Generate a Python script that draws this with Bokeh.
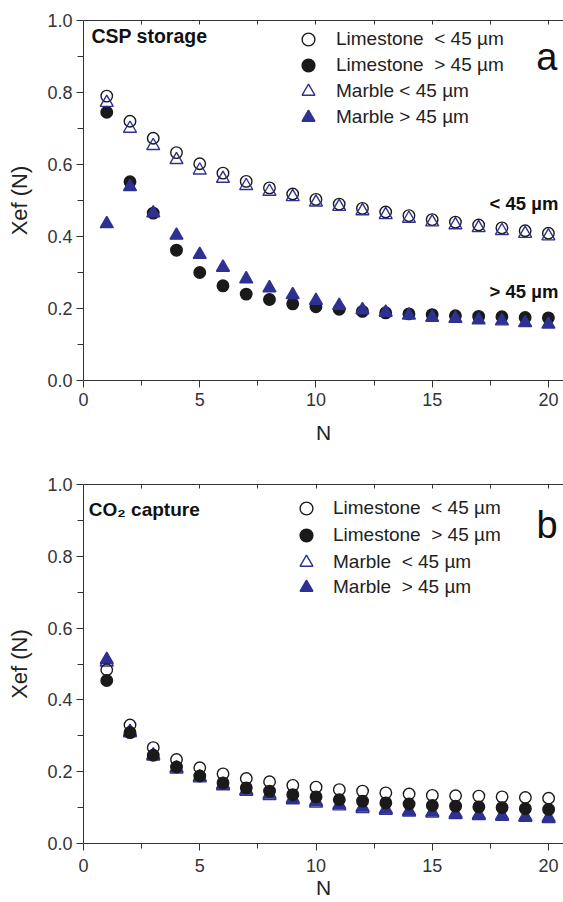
from bokeh.plotting import figure
from bokeh.models import (Range1d, Legend, LegendItem, LinearAxis, FixedTicker,
                          Label, PrintfTickFormatter)
from bokeh.layouts import column
from bokeh.embed import file_html
from bokeh.resources import INLINE

# ---------------- data ----------------
cycles = list(range(1, 21))

# panel a: CSP storage
csp_lime_fine = [0.790, 0.720, 0.673, 0.633, 0.602, 0.576, 0.553, 0.535, 0.518, 0.503,
                 0.490, 0.478, 0.468, 0.458, 0.447, 0.440, 0.432, 0.424, 0.416, 0.409]
csp_lime_coarse = [0.745, 0.552, 0.465, 0.362, 0.300, 0.263, 0.240, 0.225, 0.213, 0.205,
                   0.198, 0.192, 0.188, 0.185, 0.183, 0.180, 0.178, 0.177, 0.175, 0.174]
csp_marble_fine = [0.772, 0.700, 0.652, 0.613, 0.584, 0.561, 0.541, 0.525, 0.510, 0.495,
                   0.483, 0.471, 0.460, 0.450, 0.440, 0.432, 0.424, 0.416, 0.408, 0.401]
csp_marble_coarse = [0.435, 0.538, 0.465, 0.403, 0.350, 0.314, 0.282, 0.257, 0.238, 0.222,
                     0.208, 0.196, 0.189, 0.181, 0.175, 0.172, 0.168, 0.165, 0.160, 0.156]

# panel b: CO2 capture
co2_lime_fine = [0.484, 0.330, 0.267, 0.234, 0.211, 0.194, 0.181, 0.172, 0.162, 0.157,
                 0.150, 0.146, 0.141, 0.138, 0.134, 0.133, 0.132, 0.130, 0.128, 0.126]
co2_lime_coarse = [0.454, 0.309, 0.246, 0.213, 0.188, 0.169, 0.155, 0.146, 0.136, 0.130,
                   0.122, 0.118, 0.113, 0.110, 0.106, 0.104, 0.102, 0.100, 0.097, 0.095]
co2_marble_fine = [0.505, 0.308, 0.243, 0.207, 0.182, 0.160, 0.145, 0.133, 0.121, 0.112,
                   0.104, 0.097, 0.092, 0.087, 0.084, 0.080, 0.077, 0.075, 0.072, 0.069]
co2_marble_coarse = [0.512, 0.312, 0.246, 0.210, 0.185, 0.164, 0.148, 0.137, 0.125, 0.117,
                     0.108, 0.101, 0.095, 0.090, 0.087, 0.083, 0.080, 0.078, 0.075, 0.072]

x_major = [0, 5, 10, 15, 20]
x_minor = [2.5, 7.5, 12.5, 17.5]
top_ticks = [0, 2.5, 5, 7.5, 10, 12.5, 15, 17.5, 20]
y_major = [0.0, 0.2, 0.4, 0.6, 0.8, 1.0]
y_minor = [0.1, 0.3, 0.5, 0.7, 0.9]

labels_a = ["Limestone  < 45 µm", "Limestone  > 45 µm", "Marble < 45 µm", "Marble > 45 µm"]
labels_b = ["Limestone  < 45 µm", "Limestone  > 45 µm", "Marble  < 45 µm", "Marble  > 45 µm"]

FONT = "Liberation Sans"
BLUE = "#2E3192"
BLACK = "#1a1a1a"
AXC = "#333333"


def make_panel(height, border_top, border_bottom, border_left, x_end,
               xlabel_standoff, xtick_standoff):
    p = figure(width=563, height=height, output_backend="svg", toolbar_location=None,
               x_range=Range1d(0, x_end), y_range=Range1d(0, 1),
               min_border_left=border_left, min_border_right=0,
               min_border_top=border_top, min_border_bottom=border_bottom)
    p.grid.visible = False
    p.outline_line_color = None
    p.background_fill_color = "white"

    xa = p.xaxis[0]
    xa.ticker = FixedTicker(ticks=x_major, minor_ticks=x_minor)
    xa.major_tick_out = 7
    xa.major_tick_in = 0
    xa.minor_tick_out = 5
    xa.minor_tick_in = 0
    xa.axis_label = "N"
    xa.axis_label_text_font = FONT
    xa.axis_label_text_font_style = "normal"
    xa.axis_label_text_font_size = "21px"
    xa.axis_label_text_color = "#222222"
    xa.axis_label_standoff = xlabel_standoff
    xa.major_label_text_font = FONT
    xa.major_label_text_font_size = "18px"
    xa.major_label_text_color = "#333333"
    xa.major_label_standoff = xtick_standoff
    xa.axis_line_color = AXC
    xa.major_tick_line_color = AXC
    xa.minor_tick_line_color = AXC

    ya = p.yaxis[0]
    ya.ticker = FixedTicker(ticks=y_major, minor_ticks=y_minor)
    ya.formatter = PrintfTickFormatter(format="%.1f")
    ya.major_tick_out = 7
    ya.major_tick_in = 0
    ya.minor_tick_out = 6
    ya.minor_tick_in = 0
    ya.axis_label = "Xef (N)"
    ya.axis_label_text_font = FONT
    ya.axis_label_text_font_style = "normal"
    ya.axis_label_text_font_size = "22px"
    ya.axis_label_text_color = "#222222"
    ya.axis_label_standoff = 12
    ya.major_label_text_font = FONT
    ya.major_label_text_font_size = "18px"
    ya.major_label_text_color = "#333333"
    ya.major_label_standoff = 4
    ya.axis_line_color = AXC
    ya.major_tick_line_color = AXC
    ya.minor_tick_line_color = AXC

    # mirrored top frame line with inward ticks, no labels
    top = LinearAxis(ticker=FixedTicker(ticks=[], minor_ticks=top_ticks),
                     major_tick_in=0, major_tick_out=0, minor_tick_in=4, minor_tick_out=0,
                     major_label_standoff=0,
                     axis_line_color=AXC, minor_tick_line_color=AXC)
    p.add_layout(top, "above")
    return p


def add_series(p, ys, marker, color, filled, size):
    kw = dict(x=cycles, y=ys, marker=marker, size=size, line_color=color, line_width=1.4)
    if filled:
        kw.update(fill_color=color)
    else:
        kw.update(fill_color=None)
    return p.scatter(**kw)


def add_legend(p, renderers, labels, x, ys, standoff):
    # one single-item legend per row so that markers keep a legible size
    for r, lab, y in zip(renderers, labels, ys):
        leg = Legend(items=[LegendItem(label=lab, renderers=[r])],
                     location=(x, y), margin=0, padding=0, spacing=0,
                     glyph_width=32, glyph_height=32, label_height=32,
                     label_standoff=standoff, border_line_color=None,
                     background_fill_alpha=0,
                     label_text_font=FONT, label_text_font_size="19px",
                     label_text_color="#222222")
        p.add_layout(leg)


# ---------------- panel a ----------------
pa = make_panel(448, 20, 68, 83, 20.65, 12, 5)
r1 = add_series(pa, csp_lime_fine, "circle", BLACK, False, 11.5)
r2 = add_series(pa, csp_lime_coarse, "circle", BLACK, True, 11.5)
r3 = add_series(pa, csp_marble_fine, "triangle", BLUE, False, 13)
r4 = add_series(pa, csp_marble_coarse, "triangle", BLUE, True, 13)
add_legend(pa, [r1, r2, r3, r4], labels_a, 209, [325, 299, 273, 247], 12)

pa.add_layout(Label(x=0.34, y=0.957, text="CSP storage", text_font=FONT,
                    text_font_style="bold", text_font_size="19.5px",
                    text_baseline="middle", text_color="#111111"))
pa.add_layout(Label(x=20.39, y=0.898, text="a", text_font=FONT, text_font_size="38px",
                    text_align="right", text_baseline="alphabetic", text_color="#111111"))
pa.add_layout(Label(x=20.43, y=0.493, text="< 45 µm", text_font=FONT,
                    text_font_style="bold", text_font_size="18.5px", text_align="right",
                    text_baseline="middle", text_color="#111111"))
pa.add_layout(Label(x=20.43, y=0.247, text="> 45 µm", text_font=FONT,
                    text_font_style="bold", text_font_size="18.5px", text_align="right",
                    text_baseline="middle", text_color="#111111"))

# ---------------- panel b ----------------
pb = make_panel(454, 36, 59, 82, 20.64, 1, 8)
s3 = add_series(pb, co2_marble_fine, "triangle", BLUE, False, 13)
s4 = add_series(pb, co2_marble_coarse, "triangle", BLUE, True, 13)
s1 = add_series(pb, co2_lime_fine, "circle", BLACK, False, 11.5)
s2 = add_series(pb, co2_lime_coarse, "circle", BLACK, True, 11.5)
add_legend(pb, [s1, s2, s3, s4], labels_b, 207, [319, 292, 265, 240], 11)

pb.add_layout(Label(x=0.23, y=0.9295, text="CO₂ capture", text_font=FONT,
                    text_font_style="bold", text_font_size="19px",
                    text_baseline="alphabetic", text_color="#111111"))
pb.add_layout(Label(x=20.39, y=0.886, text="b", text_font=FONT, text_font_size="38px",
                    text_align="right", text_baseline="alphabetic", text_color="#111111"))

layout = column(pa, pb, spacing=0)
open("out.html", "w").write(file_html(layout, INLINE))
